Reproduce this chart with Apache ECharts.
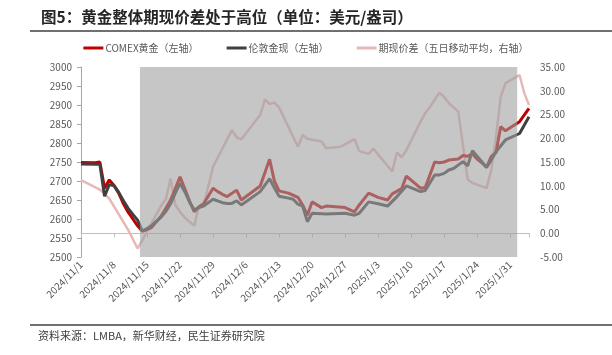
<!DOCTYPE html>
<html>
<head>
<meta charset="utf-8">
<script src="https://cdn.jsdelivr.net/npm/echarts@6/dist/echarts.min.js"></script>
<style>
html,body{margin:0;padding:0;background:#fff;}
#chart{width:612px;height:355px;}
</style>
</head>
<body>
<div id="chart"></div>
<script>
// ---- data ----
const startDate = '2024/11/1';
const endDate = '2025/2/4';
const shadeDates = ['2024/11/14', '2025/2/1'];

const comexDates = ['2024/11/1','2024/11/4','2024/11/5','2024/11/6','2024/11/7','2024/11/8','2024/11/9','2024/11/10','2024/11/11','2024/11/12','2024/11/13','2024/11/14','2024/11/15','2024/11/16','2024/11/18','2024/11/19','2024/11/20','2024/11/21','2024/11/22','2024/11/23','2024/11/24','2024/11/25','2024/11/26','2024/11/27','2024/11/29','2024/11/30','2024/12/1','2024/12/2','2024/12/4','2024/12/5','2024/12/9','2024/12/11','2024/12/12','2024/12/13','2024/12/15','2024/12/17','2024/12/18','2024/12/19','2024/12/20','2024/12/22','2024/12/23','2024/12/27','2024/12/29','2024/12/30','2025/1/1','2025/1/3','2025/1/5','2025/1/6','2025/1/8','2025/1/9','2025/1/12','2025/1/13','2025/1/15','2025/1/16','2025/1/17','2025/1/18','2025/1/20','2025/1/21','2025/1/22','2025/1/23','2025/1/24','2025/1/25','2025/1/26','2025/1/27','2025/1/28','2025/1/29','2025/1/30','2025/2/2','2025/2/4'];
const comexValues = [2749,2748,2750,2681,2703,2688,2668,2640,2618,2600,2582,2568,2572,2578,2608,2628,2650,2680,2711,2680,2648,2619,2632,2640,2681,2672,2665,2659,2676,2650,2687,2757,2700,2674,2668,2657,2637,2610,2645,2630,2634,2630,2619,2637,2668,2657,2650,2666,2680,2713,2681,2683,2750,2748,2750,2755,2758,2767,2765,2772,2758,2748,2736,2765,2775,2843,2832,2856,2891];

const londonDates = ['2024/11/1','2024/11/4','2024/11/5','2024/11/6','2024/11/7','2024/11/8','2024/11/9','2024/11/10','2024/11/11','2024/11/12','2024/11/13','2024/11/14','2024/11/15','2024/11/16','2024/11/18','2024/11/19','2024/11/20','2024/11/21','2024/11/22','2024/11/23','2024/11/24','2024/11/25','2024/11/26','2024/11/27','2024/11/29','2024/12/1','2024/12/2','2024/12/3','2024/12/4','2024/12/5','2024/12/9','2024/12/11','2024/12/12','2024/12/13','2024/12/15','2024/12/16','2024/12/17','2024/12/18','2024/12/19','2024/12/20','2024/12/23','2024/12/27','2024/12/29','2024/12/30','2025/1/1','2025/1/3','2025/1/5','2025/1/7','2025/1/9','2025/1/12','2025/1/13','2025/1/15','2025/1/16','2025/1/17','2025/1/18','2025/1/19','2025/1/21','2025/1/22','2025/1/23','2025/1/26','2025/1/27','2025/1/28','2025/1/30','2025/2/2','2025/2/4'];
const londonValues = [2745,2744,2744,2660,2690,2688,2670,2648,2628,2612,2597,2568,2575,2583,2605,2620,2640,2668,2694,2672,2645,2624,2630,2634,2652,2643,2641,2641,2648,2637,2672,2706,2682,2660,2655,2652,2639,2634,2593,2615,2613,2615,2610,2615,2645,2640,2634,2659,2687,2672,2675,2716,2716,2720,2729,2733,2751,2740,2780,2736,2755,2777,2808,2825,2869];

const spreadDates = ['2024/11/1','2024/11/5','2024/11/6','2024/11/7','2024/11/9','2024/11/11','2024/11/13','2024/11/14','2024/11/15','2024/11/16','2024/11/18','2024/11/19','2024/11/20','2024/11/21','2024/11/22','2024/11/23','2024/11/25','2024/11/26','2024/11/27','2024/11/29','2024/12/3','2024/12/4','2024/12/5','2024/12/9','2024/12/10','2024/12/11','2024/12/12','2024/12/13','2024/12/17','2024/12/18','2024/12/19','2024/12/22','2024/12/23','2024/12/26','2024/12/29','2024/12/30','2025/1/1','2025/1/2','2025/1/6','2025/1/7','2025/1/8','2025/1/9','2025/1/12','2025/1/13','2025/1/14','2025/1/16','2025/1/17','2025/1/18','2025/1/20','2025/1/21','2025/1/22','2025/1/23','2025/1/26','2025/1/27','2025/1/28','2025/1/29','2025/1/30','2025/2/2','2025/2/3','2025/2/4'];
const spreadValues = [11.2,9.2,8.3,7.3,4.0,0.7,-3.2,-1.5,0.5,2.2,5.8,7.2,11.5,6.0,4.5,3.3,1.6,5.6,5.8,14.0,21.7,20.2,19.8,24.9,28.2,27.2,27.5,26.5,18.2,20.7,19.9,19.3,17.9,18.2,19.8,17.3,16.7,17.8,13.0,17.0,16.0,17.5,23.5,25.3,26.6,29.6,28.7,27.4,25.6,18.5,11.3,10.6,9.5,13.3,20.3,28.7,31.6,33.3,29.5,27.0];

const leftTicks = {min: 2500, max: 3000, interval: 50};
const rightTicks = {min: -5, max: 35, interval: 5};

const seriesNames = ['COMEX黄金（左轴）', '伦敦金现（左轴）', '期现价差（五日移动平均，右轴）'];
const titleText = '图5：黄金整体期现价差处于高位（单位：美元/盎司）';
const sourceText = '资料来源：LMBA，新华财经，民生证券研究院';

// ---- helpers ----
function toUTC(s){ const p = s.split('/').map(Number); return Date.UTC(p[0], p[1]-1, p[2]); }
const t0 = toUTC(startDate);
function idx(s){ return Math.round((toUTC(s) - t0) / 86400000); }
function fmt(v){ const d = new Date(t0 + v*86400000); return d.getUTCFullYear() + '/' + (d.getUTCMonth()+1) + '/' + d.getUTCDate(); }
function pairs(ds, vs){ return ds.map((d,i)=>[idx(d), vs[i]]); }

const FONT = '"Noto Sans CJK SC", "Noto Sans", sans-serif';
const chart = echarts.init(document.getElementById('chart'), null, {renderer: 'canvas'});

const shadeData = [[idx(shadeDates[0]) - 0.5, idx(shadeDates[1]) + 0.5]];

chart.setOption({
  animation: false,
  backgroundColor: '#ffffff',
  textStyle: {fontFamily: FONT},
  title: {
    text: titleText, left: 36, top: 4,
    textStyle: {fontSize: 15.5, fontWeight: 'bold', color: '#262626', fontFamily: FONT}
  },
  legend: {
    top: 38, left: 'center', itemWidth: 20, itemHeight: 3, itemGap: 28, icon: 'rect',
    textStyle: {fontSize: 10, color: '#595959', fontFamily: FONT, padding: [0, 0, 0, -3]},
    data: seriesNames
  },
  grid: {left: 81, right: 83, top: 67, bottom: 98},
  xAxis: {
    type: 'value', min: 0, max: idx(endDate), interval: 7,
    axisLine: {show: true, lineStyle: {color: '#bfbfbf'}},
    axisTick: {show: true, length: 4, lineStyle: {color: '#bfbfbf'}},
    splitLine: {show: false},
    axisLabel: {
      rotate: 45, fontSize: 10, color: '#595959', margin: 6, fontFamily: FONT,
      formatter: v => (v % 7 === 0 ? fmt(v) : '')
    }
  },
  yAxis: [
    {
      type: 'value', min: leftTicks.min, max: leftTicks.max, interval: leftTicks.interval,
      axisLine: {show: true, lineStyle: {color: '#a6a6a6'}},
      axisTick: {show: true, length: 4, lineStyle: {color: '#a6a6a6'}},
      splitLine: {show: false},
      axisLabel: {fontSize: 10, color: '#595959', margin: 9, fontFamily: FONT, formatter: v => String(v)}
    },
    {
      type: 'value', min: rightTicks.min, max: rightTicks.max, interval: rightTicks.interval,
      axisLine: {show: false}, axisTick: {show: false}, splitLine: {show: false},
      axisLabel: {fontSize: 10, color: '#595959', margin: 11, fontFamily: FONT, formatter: v => v.toFixed(2)}
    }
  ],
  series: [
    {
      name: seriesNames[0], type: 'line', yAxisIndex: 0, z: 3,
      data: pairs(comexDates, comexValues), showSymbol: false, symbol: 'none',
      lineStyle: {color: '#c00000', width: 3}, itemStyle: {color: '#c00000'}
    },
    {
      name: seriesNames[1], type: 'line', yAxisIndex: 0, z: 4,
      data: pairs(londonDates, londonValues), showSymbol: false, symbol: 'none',
      lineStyle: {color: '#404040', width: 3}, itemStyle: {color: '#404040'}
    },
    {
      name: seriesNames[2], type: 'line', yAxisIndex: 1, z: 2,
      data: pairs(spreadDates, spreadValues), showSymbol: false, symbol: 'none',
      lineStyle: {color: '#e6b9b8', width: 2.5}, itemStyle: {color: '#e6b9b8'}
    },
    {
      name: 'shade', type: 'custom', yAxisIndex: 0, z: 20, silent: true,
      data: shadeData,
      encode: {x: [0, 1]},
      renderItem: function (params, api) {
        const p0 = api.coord([api.value(0), leftTicks.min]);
        const p1 = api.coord([api.value(1), leftTicks.max]);
        return {
          type: 'rect',
          shape: {x: p0[0], y: p1[1], width: p1[0] - p0[0], height: p0[1] - p1[1]},
          style: {fill: 'rgba(160,160,160,0.6)'}
        };
      }
    }
  ],
  graphic: [
    {type: 'line', shape: {x1: 30, y1: 31, x2: 612, y2: 31}, style: {stroke: '#404040', lineWidth: 1.5}},
    {type: 'line', shape: {x1: 30, y1: 325, x2: 612, y2: 325}, style: {stroke: '#404040', lineWidth: 1.5}},
    {type: 'text', left: 38, top: 330, style: {text: sourceText, fontSize: 11, fill: '#404040', fontFamily: FONT}}
  ]
});
</script>
</body>
</html>
